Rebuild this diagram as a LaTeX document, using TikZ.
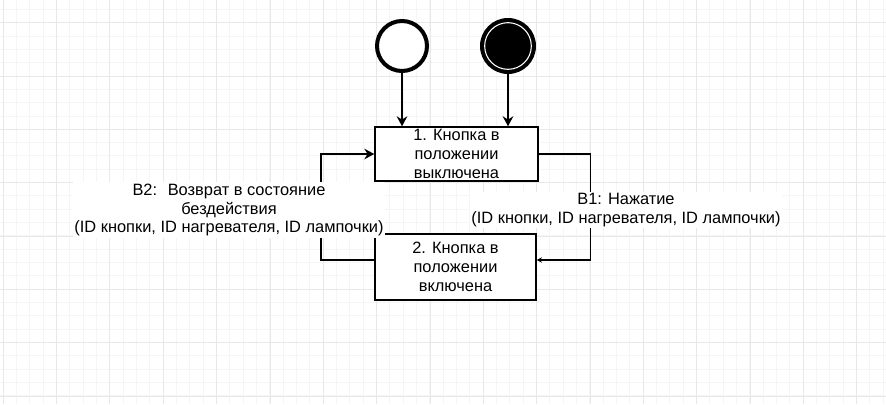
\documentclass[tikz,border=0pt]{standalone}
\usepackage{fontspec}
\setmainfont{Liberation Sans}
\usepackage{tikz}
\usetikzlibrary{arrows.meta,positioning}

\begin{document}
\begin{tikzpicture}[x=0.75pt,y=-0.75pt,
every node/.style={font=\fontsize{12.3}{14.2}\selectfont, align=center},
gridmajor/.style={draw=black!9, line width=0.75pt},
gridminor/.style={draw=black!4, line width=0.75pt},
state/.style={draw, line width=1.1pt, fill=white, inner sep=0pt},
flow/.style={line width=1.1pt, -{Stealth[length=7.5pt,width=8pt,inset=2.5pt]}},
trans/.style={fill=white, inner sep=1pt},
start/.style={circle, draw, line width=3pt, fill=white, minimum size=37.5pt, inner sep=0pt},
stop/.style={circle, fill=black, minimum size=42pt, inner sep=0pt}]
\useasboundingbox (0,0) rectangle (886,404);
% background grid
\foreach \i in {0,...,66} \draw[gridminor] ({3.333+13.333*\i},0) -- ++(0,404);
\foreach \j in {0,...,29} \draw[gridminor] (0,{9.333+13.333*\j}) -- ++(886,0);
\foreach \i in {0,...,16} \draw[gridmajor] ({3.333+53.333*\i},0) -- ++(0,404);
\foreach \j in {0,...,7} \draw[gridmajor] (0,{22.667+53.333*\j}) -- ++(886,0);

% initial and final states
\node[start] (init) at (402,46) {};
\node[stop] (final) at (508,46) {};
\draw[white, line width=0.8pt] (final.center) circle (17.5pt);

% button states
\node[state, minimum width=122.25pt, minimum height=40.5pt] (off) at (456.5,154) {1. Кнопка в\\положении\\выключена};
\node[state, minimum width=120.75pt, minimum height=49.5pt] (on) at (455.5,267) {2. Кнопка в\\положении\\включена};

\draw[flow] (init) -- (init |- off.north);
\draw[flow] (final) -- (final |- off.north);
\draw[line width=1.1pt, -{Stealth[length=4pt,width=4pt,inset=1.5pt]}] (off.east) -- ++(51.5,0) |- ([yshift=5.25pt]on.east);
\draw[flow] ([yshift=5.25pt]on.west) -- ++(-53.5,0) |- (off.west);

% transition labels
\node[trans] (b1) at (626,210) {B1: Нажатие\\(ID кнопки, ID нагревателя, ID лампочки)};
\node[trans] (b2) at (229,210) {B2:~ Возврат в состояние\\бездействия\\(ID кнопки, ID нагревателя, ID лампочки)};
\end{tikzpicture}
\end{document}
